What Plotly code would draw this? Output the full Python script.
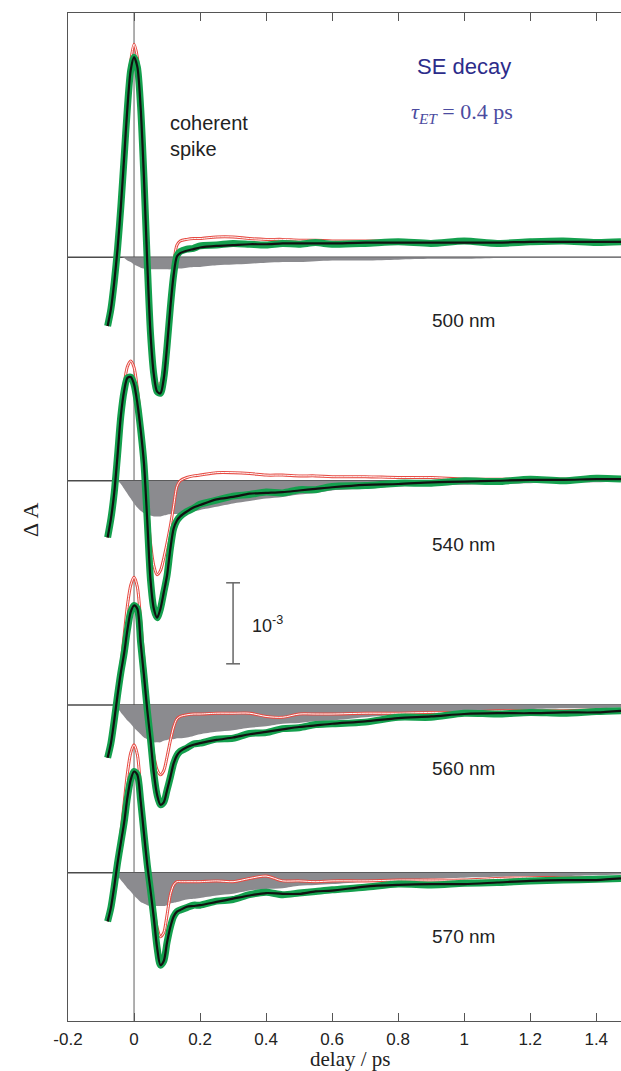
import plotly.graph_objects as go

# delay axis (ps)
delay = [-0.08, -0.07, -0.06, -0.05, -0.04, -0.03, -0.02, -0.01, 0.00, 0.01,
         0.02, 0.03, 0.04, 0.05, 0.06, 0.07, 0.08, 0.09, 0.10, 0.11,
         0.12, 0.13, 0.14, 0.16, 0.18, 0.20, 0.25, 0.30, 0.35, 0.40,
         0.45, 0.50, 0.55, 0.60, 0.70, 0.80, 0.90, 1.00, 1.10, 1.20,
         1.30, 1.40, 1.475]

# all signals in units of 1e-5 ΔA
labels = ["500 nm", "540 nm", "560 nm", "570 nm"]
offsets = [943, 667, 390, 183]

data_500 = [-85, -64, -31, 10, 62, 123, 185, 231, 247, 235, 185, 99, -6, -95, -145, -166, -168, -150, -110, -62,
            -22, 2, 7, 10, 11, 14, 15, 17, 16, 15, 17, 16, 18, 16, 17, 19, 17, 20, 17, 19, 20, 18, 19]
fit_500 = [-85, -64, -31, 10, 62, 123, 185, 231, 247, 235, 185, 99, -6, -95, -145, -166, -168, -150, -110, -62,
           -22, 1, 5, 8, 10, 12, 14, 15, 16, 16, 17, 17, 17, 17, 18, 18, 18, 18, 18, 19, 19, 19, 19]
red_500 = [-85, -64, -31, 10, 64, 128, 193, 242, 263, 247, 191, 101, -2, -89, -137, -156, -156, -138, -98, -49,
           -8, 15, 20, 22, 23, 23, 25, 25, 23, 22, 22, 21, 21, 20, 20, 20, 19, 19, 19, 19, 19, 19, 19]
se_500 = [0, 0, 0, 0, 0, -1, -4, -6, -9, -11, -13, -14, -15, -15, -15, -15, -15, -15, -15, -15,
          -14, -14, -14, -13, -12, -12, -10, -9, -8, -7, -6, -6, -5, -4, -4, -3, -2, -2, -1, -1, -1, -1, -1]

data_540 = [-70, -47, -15, 31, 80, 111, 127, 128, 119, 96, 63, 22, -49, -123, -158, -169, -158, -138, -117, -84,
            -59, -49, -44, -38, -34, -29, -24, -19, -17, -14, -15, -11, -11, -7, -6, -3, -3, 0, -1, 2, 0, 3, 2]
fit_540 = [-70, -47, -15, 31, 80, 111, 127, 128, 119, 96, 63, 22, -49, -123, -158, -169, -158, -138, -117, -84,
           -59, -49, -44, -38, -33, -30, -23, -20, -16, -15, -14, -12, -10, -8, -5, -4, -2, -1, 0, 1, 1, 2, 2]
red_540 = [-70, -47, -15, 31, 84, 119, 141, 148, 140, 114, 77, 35, -25, -77, -105, -116, -111, -96, -77, -56,
           -31, -7, 0, 4, 6, 7, 10, 10, 9, 7, 7, 6, 6, 5, 5, 4, 4, 2, 2, 2, 2, 2, 2]
se_540 = [0, 0, 0, 0, -4, -10, -16, -22, -28, -33, -37, -40, -42, -43, -44, -44, -44, -43, -42, -41,
          -41, -41, -41, -40, -38, -36, -32, -28, -25, -22, -20, -17, -15, -12, -10, -7, -6, -5, -4, -3, -2, -2, -1]

data_560 = [-65, -47, -19, 12, 40, 64, 93, 115, 123, 119, 77, 37, -6, -43, -84, -111, -123, -120, -105, -89,
            -72, -62, -57, -53, -48, -47, -42, -41, -35, -34, -29, -28, -24, -23, -21, -15, -15, -10, -11, -9, -10, -8, -7]
fit_560 = [-65, -47, -19, 12, 40, 64, 93, 115, 123, 119, 77, 37, -6, -43, -84, -111, -123, -120, -105, -89,
           -72, -62, -57, -52, -49, -47, -43, -40, -36, -33, -30, -27, -25, -23, -20, -16, -14, -11, -10, -10, -9, -9, -7]
red_560 = [-65, -47, -19, 15, 49, 86, 123, 148, 158, 146, 105, 56, 10, -31, -62, -80, -86, -81, -64, -44,
           -27, -17, -14, -12, -11, -11, -10, -10, -10, -14, -15, -11, -11, -11, -10, -10, -9, -9, -7, -7, -7, -6, -6]
se_560 = [0, 0, 0, -4, -9, -14, -19, -23, -28, -32, -36, -40, -42, -44, -46, -46, -46, -44, -43, -42,
          -42, -41, -41, -40, -38, -36, -33, -31, -28, -26, -23, -22, -20, -19, -15, -12, -10, -7, -6, -5, -4, -4, -3]

data_570 = [-60, -43, -17, 12, 37, 62, 93, 115, 125, 121, 89, 49, 10, -22, -56, -93, -114, -109, -86, -67,
            -54, -48, -46, -43, -40, -40, -35, -33, -27, -24, -27, -25, -23, -21, -18, -14, -15, -13, -12, -10, -9, -8, -7]
fit_570 = [-60, -43, -17, 12, 37, 62, 93, 115, 125, 121, 89, 49, 10, -22, -56, -93, -114, -109, -86, -67,
           -54, -48, -46, -42, -41, -40, -36, -32, -28, -25, -26, -26, -23, -22, -17, -15, -14, -14, -12, -10, -9, -9, -7]
red_570 = [-60, -43, -17, 15, 49, 86, 123, 148, 158, 146, 105, 59, 19, -15, -43, -68, -79, -74, -52, -27,
           -15, -11, -11, -11, -11, -11, -10, -11, -7, -4, -10, -10, -11, -10, -10, -9, -9, -9, -7, -6, -6, -6, -6]
se_570 = [0, 0, 0, -4, -9, -14, -19, -23, -28, -32, -36, -38, -40, -41, -41, -41, -41, -41, -40, -38,
          -37, -36, -35, -33, -32, -31, -28, -26, -22, -20, -19, -16, -15, -14, -11, -9, -7, -6, -5, -4, -4, -3, -2]

panels = [
    (data_500, fit_500, red_500, se_500),
    (data_540, fit_540, red_540, se_540),
    (data_560, fit_560, red_560, se_560),
    (data_570, fit_570, red_570, se_570),
]

tick_vals = [-0.2, 0, 0.2, 0.4, 0.6, 0.8, 1.0, 1.2, 1.4]
tick_text = ["-0.2", "0", "0.2", "0.4", "0.6", "0.8", "1", "1.2", "1.4"]

X_RANGE = [-0.2, 1.475]
Y_RANGE = [0, 1244.5]

GREEN = "#14a04e"
RED = "#e64a42"
GRAY = "#8b8b8f"

fig = go.Figure()

for (dat, fit, red, se), off in zip(panels, offsets):
    sp = dict(shape="spline", smoothing=0.8)
    fig.add_trace(go.Scatter(x=delay, y=[off] * len(delay), mode="lines",
                             line=dict(width=0), hoverinfo="skip", showlegend=False))
    fig.add_trace(go.Scatter(x=delay, y=[off + v for v in se], mode="lines", fill="tonexty",
                             fillcolor=GRAY, line=dict(width=0, **sp), hoverinfo="skip", showlegend=False))
    fig.add_trace(go.Scatter(x=delay, y=[off + v for v in red], mode="lines",
                             line=dict(color=RED, width=3, **sp), showlegend=False))
    fig.add_trace(go.Scatter(x=delay, y=[off + v for v in red], mode="lines",
                             line=dict(color="white", width=1, **sp), showlegend=False))
    fig.add_trace(go.Scatter(x=delay, y=[off + v for v in dat], mode="lines",
                             line=dict(color=GREEN, width=7, **sp), showlegend=False))
    fig.add_trace(go.Scatter(x=delay, y=[off + v for v in fit], mode="lines",
                             line=dict(color="#111111", width=2.2, **sp), showlegend=False))

shapes = []
# zero-delay line
shapes.append(dict(type="line", xref="x", yref="paper", x0=0, x1=0, y0=0, y1=1,
                   line=dict(color="#7a7a7a", width=1.2), layer="below"))
# baselines
for off in offsets:
    shapes.append(dict(type="line", xref="x", yref="y", x0=X_RANGE[0], x1=X_RANGE[1], y0=off, y1=off,
                       line=dict(color="#4a4a4a", width=1.5), layer="below"))
# scale bar (1e-3 = 100 units)
sb_x, sb_y0, sb_y1, cap = 0.3, 441, 541, 0.021
shapes.append(dict(type="line", x0=sb_x, x1=sb_x, y0=sb_y0, y1=sb_y1, line=dict(color="#666", width=1.5)))
shapes.append(dict(type="line", x0=sb_x - cap, x1=sb_x + cap, y0=sb_y0, y1=sb_y0, line=dict(color="#666", width=1.5)))
shapes.append(dict(type="line", x0=sb_x - cap, x1=sb_x + cap, y0=sb_y1, y1=sb_y1, line=dict(color="#666", width=1.5)))

SANS = "Liberation Sans, Arial, sans-serif"
SERIF = "Liberation Serif, DejaVu Serif, serif"

annotations = [
    dict(x=1.0, y=1179, text="SE decay", showarrow=False,
         font=dict(family=SANS, size=22, color="#2c2c8a")),
    dict(x=0.994, y=1121, text="<i>τ<sub>ET</sub></i> = 0.4 ps", showarrow=False,
         font=dict(family=SERIF, size=22, color="#4b4ba0")),
    dict(x=0.103, y=1093, text="coherent<br>spike", showarrow=False, xanchor="left", align="left",
         font=dict(family=SANS, size=20, color="#222")),
    dict(x=0.352, y=489, text="10<sup>-3</sup>", showarrow=False, xanchor="left",
         font=dict(family=SANS, size=18, color="#222")),
    dict(xref="paper", yref="paper", x=(350 - 68) / 553, y=-(1059 - 1021) / 1008, text="delay / ps",
         showarrow=False, yanchor="middle", font=dict(family=SERIF, size=21, color="#222")),
    dict(xref="paper", yref="paper", x=(30 - 68) / 553, y=(1021 - 520) / 1008, text="Δ A",
         showarrow=False, textangle=-90, xanchor="center", yanchor="middle",
         font=dict(family=SERIF, size=22, color="#222")),
]
ys_lab = [865, 588, 312, 104]
for lab, yl in zip(labels, ys_lab):
    annotations.append(dict(x=0.997, y=yl, text=lab, showarrow=False,
                            font=dict(family=SANS, size=19, color="#222")))

fig.update_layout(
    width=621, height=1071,
    margin=dict(l=68, r=0, t=13, b=50),
    paper_bgcolor="white", plot_bgcolor="white",
    shapes=shapes, annotations=annotations,
    xaxis=dict(range=X_RANGE, tickvals=tick_vals, ticktext=tick_text, ticks="inside", ticklen=8,
               tickcolor="#555", tickwidth=1.2, showline=True, linecolor="#555", linewidth=1.3,
               mirror="ticks", showgrid=False, zeroline=False, ticklabelstandoff=2,
               tickfont=dict(family=SANS, size=17, color="#222")),
    yaxis=dict(range=Y_RANGE, showticklabels=False, ticks="", showline=True, linecolor="#555",
               linewidth=1.3, showgrid=False, zeroline=False),
)

fig.write_html("out.html")
